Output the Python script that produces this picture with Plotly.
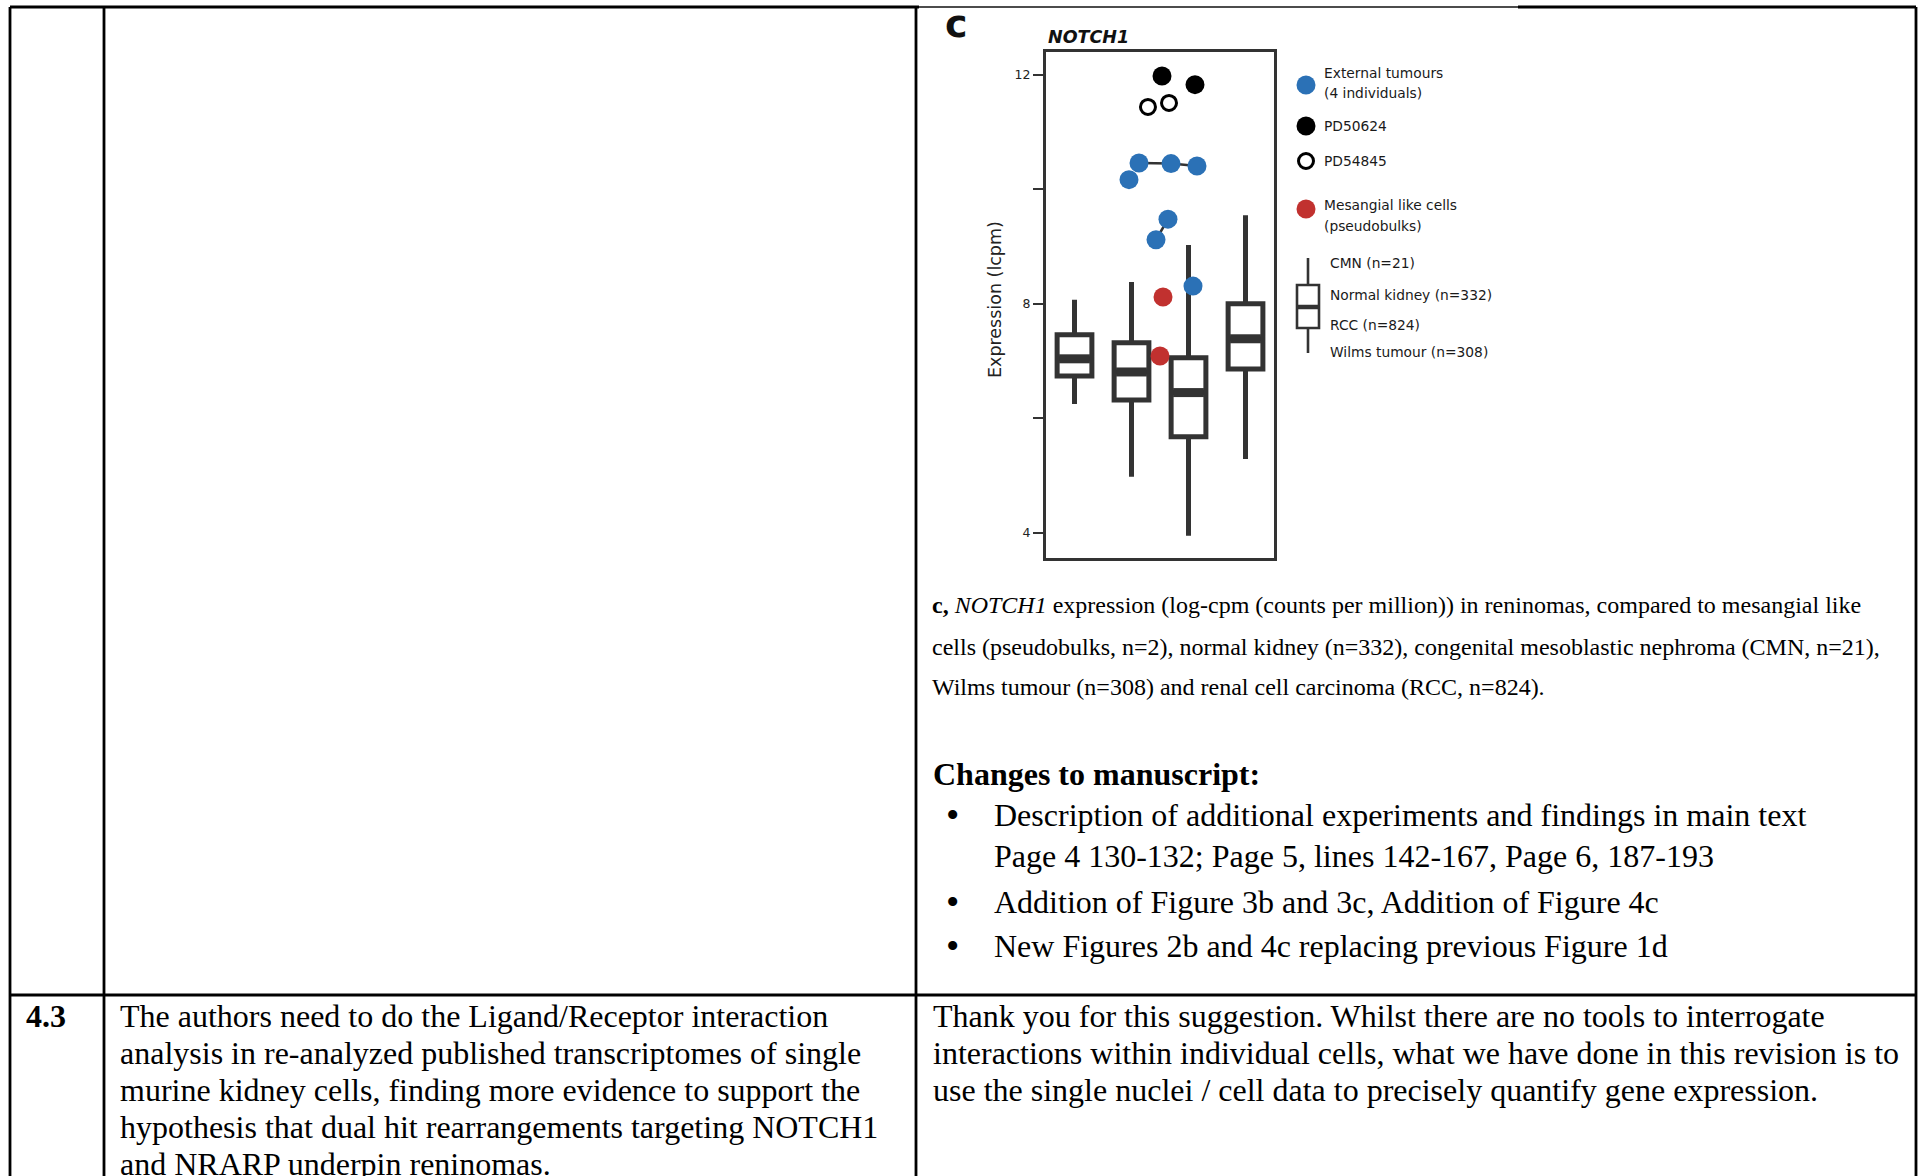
import plotly.graph_objects as go

# ---------------- data ----------------
groups = ["CMN", "Normal kidney", "RCC", "Wilms tumour"]
group_n = [21, 332, 824, 308]
group_pos = [1, 2, 3, 4]
box_lower = [6.25, 4.98, 3.95, 5.29]
box_q1 = [6.74, 6.32, 5.68, 6.86]
box_median = [7.04, 6.81, 6.45, 7.39]
box_q3 = [7.46, 7.32, 7.06, 8.00]
box_upper = [8.07, 8.38, 9.03, 9.55]

ext_x = [2.132, 2.693, 3.149, 1.956, 2.640, 2.430, 3.079]
ext_y = [10.46, 10.45, 10.41, 10.17, 9.48, 9.12, 8.31]
ext_ind = ["A", "A", "A", "B", "C", "C", "D"]

pd50624_x = [2.535, 3.114]
pd50624_y = [11.98, 11.83]
pd54845_x = [2.289, 2.658]
pd54845_y = [11.44, 11.51]

mes_x = [2.553, 2.500]
mes_y = [8.12, 7.09]

y_ticks = [4, 6, 8, 10, 12]
y_ticktext = ["4", "", "8", "", "12"]

# ---------------- styles ----------------
W, H = 1921, 1176
DARK = "#333333"
BLUE = "#2B71B6"
RED = "#C1312F"
SANS = "DejaVu Sans"
SERIF = "Liberation Serif"

fig = go.Figure()

# box plot from summary statistics
fig.add_trace(go.Box(
    x=group_pos, q1=box_q1, median=box_median, q3=box_q3,
    lowerfence=box_lower, upperfence=box_upper,
    width=0.61, whiskerwidth=0, fillcolor="white", boxpoints=False,
    line=dict(color=DARK, width=5), showlegend=False, hoverinfo="skip",
    xaxis="x", yaxis="y"))

# thick medians
mx, my = [], []
for p, m in zip(group_pos, box_median):
    mx += [p - 0.27, p + 0.27, None]
    my += [m, m, None]
fig.add_trace(go.Scatter(x=mx, y=my, mode="lines", line=dict(color=DARK, width=9),
                         showlegend=False, hoverinfo="skip"))

# connecting lines for external tumours of the same individual
for ind in sorted(set(ext_ind)):
    xs = [x for x, i in zip(ext_x, ext_ind) if i == ind]
    ys = [y for y, i in zip(ext_y, ext_ind) if i == ind]
    if len(xs) > 1:
        fig.add_trace(go.Scatter(x=xs, y=ys, mode="lines", line=dict(color=DARK, width=2.5),
                                 showlegend=False, hoverinfo="skip"))

fig.add_trace(go.Scatter(x=ext_x, y=ext_y, mode="markers",
                         marker=dict(size=19, color=BLUE, line=dict(width=0)),
                         showlegend=False))
fig.add_trace(go.Scatter(x=pd50624_x, y=pd50624_y, mode="markers",
                         marker=dict(size=19, color="black", line=dict(width=0)),
                         showlegend=False))
fig.add_trace(go.Scatter(x=pd54845_x, y=pd54845_y, mode="markers",
                         marker=dict(size=15, color="white", line=dict(width=3, color="black")),
                         showlegend=False))
fig.add_trace(go.Scatter(x=mes_x, y=mes_y, mode="markers",
                         marker=dict(size=19, color=RED, line=dict(width=0)),
                         showlegend=False))

# ---------------- legend (page pixel coordinates on x2/y2) ----------------
leg_x = 1306
leg_items = [
    (85, dict(size=19, color=BLUE, line=dict(width=0))),
    (126, dict(size=19, color="black", line=dict(width=0))),
    (161, dict(size=15, color="white", line=dict(width=3, color="black"))),
    (209, dict(size=19, color=RED, line=dict(width=0))),
]
for yy, mk in leg_items:
    fig.add_trace(go.Scatter(x=[leg_x], y=[yy], mode="markers", marker=mk,
                             xaxis="x2", yaxis="y2", showlegend=False, hoverinfo="skip"))

shapes = []
def line(x0, y0, x1, y1, w=2.8, c="black"):
    shapes.append(dict(type="line", xref="x2", yref="y2", x0=x0, y0=y0, x1=x1, y1=y1,
                       line=dict(color=c, width=w)))

# box legend icon
line(1308, 258, 1308, 285, 2.6, DARK)
line(1308, 328, 1308, 353, 2.6, DARK)
shapes.append(dict(type="rect", xref="x2", yref="y2", x0=1297, x1=1319, y0=285, y1=328,
                   line=dict(color=DARK, width=2.6), fillcolor="white"))
line(1297, 307, 1319, 307, 4.5, DARK)

# table borders
line(10, 7, 919, 7)
line(919, 7, 1518, 7, 1.6, "#111")
line(1518, 7, 1916, 7)
line(10, 7, 10, H)
line(104, 7, 104, H)
line(916, 7, 916, H)
line(1916, 7, 1916, H)
line(10, 995, 1916, 995)

ann = []
def text(x, y, s, size, font=SERIF, xanchor="left", color="black", angle=0):
    ann.append(dict(xref="x2", yref="y2", x=x, y=y, text=s, showarrow=False,
                    xanchor=xanchor, yanchor="middle", textangle=angle,
                    font=dict(family=font, size=size, color=color)))

# chart labels
text(943, 24, "<b>c</b>", 38, SANS, color="#111")
text(1046, 37, "<b><i>NOTCH1</i></b>", 17.5, SANS, color="#111")
text(995, 300, "Expression (lcpm)", 17.5, SANS, xanchor="center", color="#222", angle=-90)

leg_txt = [
    (1322, 73, "External tumours"), (1322, 93, "(4 individuals)"),
    (1322, 126, "PD50624"), (1322, 161, "PD54845"),
    (1322, 205, "Mesangial like cells"), (1322, 226, "(pseudobulks)"),
]
for x, y, s in leg_txt:
    text(x, y, s, 13.8, SANS, color="#1a1a1a")
for (g, n), y in zip(zip(groups, group_n), [263, 295, 325, 352]):
    text(1328, y, f"{g} (n={n})", 13.8, SANS, color="#1a1a1a")

# caption
cap = [
    "<b>c,</b> <i>NOTCH1</i> expression (log-cpm (counts per million)) in reninomas, compared to mesangial like",
    "cells (pseudobulks, n=2), normal kidney (n=332), congenital mesoblastic nephroma (CMN, n=21),",
    "Wilms tumour (n=308) and renal cell carcinoma (RCC, n=824).",
]
for s, y in zip(cap, [605, 647, 687]):
    text(930, y, s, 24.0)

text(931, 774, "<b>Changes to manuscript:</b>", 32)
bul = [
    (815, "Description of additional experiments and findings in main text", True),
    (856, "Page 4 130-132; Page 5, lines 142-167, Page 6, 187-193", False),
    (902, "Addition of Figure 3b and 3c, Addition of Figure 4c", True),
    (946, "New Figures 2b and 4c replacing previous Figure 1d", True),
]
for y, s, dot in bul:
    if dot:
        text(952, y, "•", 38, xanchor="center")
    text(992, y, s, 32)

text(24, 1016, "<b>4.3</b>", 32)
left_lines = [
    "The authors need to do the Ligand/Receptor interaction",
    "analysis in re-analyzed published transcriptomes of single",
    "murine kidney cells, finding more evidence to support the",
    "hypothesis that dual hit rearrangements targeting NOTCH1",
    "and NRARP underpin reninomas.",
]
right_lines = [
    "Thank you for this suggestion. Whilst there are no tools to interrogate",
    "interactions within individual cells, what we have done in this revision is to",
    "use the single nuclei / cell data to precisely quantify gene expression.",
]
ys = [1016, 1053, 1090, 1127, 1164]
for s, y in zip(left_lines, ys):
    text(118, y, s, 32)
for s, y in zip(right_lines, ys):
    text(931, y, s, 32)

# ---------------- layout ----------------
x0, x1, yt, yb = 1046, 1274, 52, 558
fig.update_layout(
    width=W, height=H, margin=dict(l=0, r=0, t=0, b=0),
    paper_bgcolor="white", plot_bgcolor="rgba(0,0,0,0)",
    showlegend=False, shapes=shapes, annotations=ann,
    xaxis=dict(domain=[x0 / W, x1 / W], range=[0.5, 4.5], showgrid=False, zeroline=False,
               showticklabels=False, ticks="", showline=True, mirror=True,
               linecolor=DARK, linewidth=3, fixedrange=True),
    yaxis=dict(domain=[(H - yb) / H, (H - yt) / H], range=[3.56, 12.40], showgrid=False,
               zeroline=False, tickvals=y_ticks, ticktext=y_ticktext, ticks="outside",
               ticklen=10, tickwidth=2, tickcolor=DARK, showline=True, mirror=True,
               linecolor=DARK, linewidth=3, tickfont=dict(family=SANS, size=12.5, color="#222"),
               fixedrange=True),
    xaxis2=dict(domain=[0, 1], range=[0, W], visible=False, anchor="y2", fixedrange=True),
    yaxis2=dict(domain=[0, 1], range=[H, 0], visible=False, anchor="x2", fixedrange=True),
)

fig.write_html("out.html")
